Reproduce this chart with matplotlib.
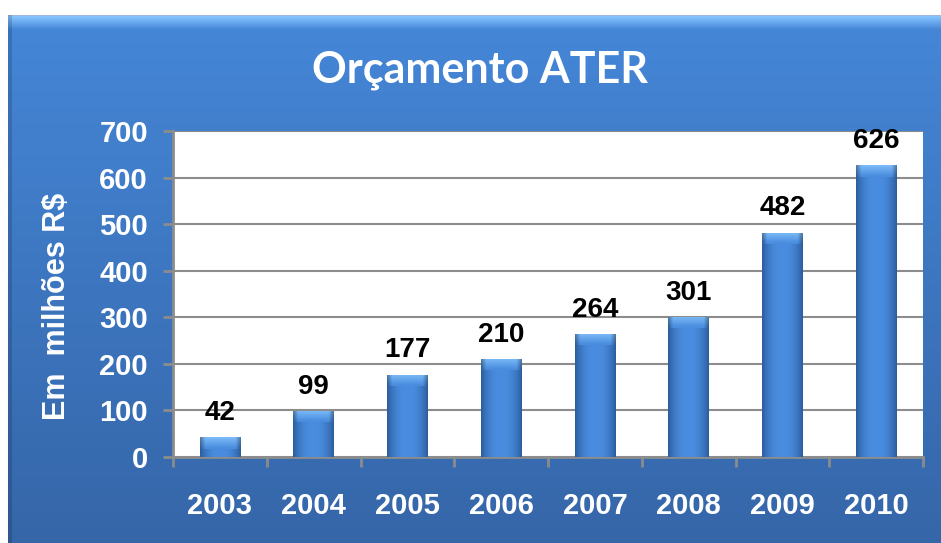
import matplotlib
matplotlib.use("Agg")
import matplotlib.pyplot as plt
import numpy as np
from matplotlib.colors import to_rgb

years = ["2003", "2004", "2005", "2006", "2007", "2008", "2009", "2010"]
values = [42, 99, 177, 210, 264, 301, 482, 626]
y_ticks = [0, 100, 200, 300, 400, 500, 600, 700]

title = "Orçamento ATER"
y_label = "Em  milhões R$"

W, H = 941, 543
fig = plt.figure(figsize=(W / 100, H / 100), dpi=100, facecolor="white")


def mix(c1, c2, t):
    a, b = np.array(to_rgb(c1)), np.array(to_rgb(c2))
    t = np.asarray(t)[..., None]
    return a * (1 - t) + b * t


# blue frame behind the chart
bg = fig.add_axes([0, 0, 1, 1], zorder=0)
bg.set_axis_off()
yy = np.linspace(0, 1, H)
img = np.ones((H, W, 3))
frame_top, frame_left = 15, 8
col = mix("#4586d7", "#3566a8", np.clip((yy - 0.05) / 0.95, 0, 1))
img[frame_top:, frame_left:, :] = col[frame_top:, None, :]
# light bevel at the top
bevel = mix("#86c4ff", "#4586d7", np.linspace(0, 1, 14))
img[frame_top + 1:frame_top + 15, frame_left:, :] = bevel[:, None, :]
img[frame_top, frame_left:, :] = to_rgb("#9fb6df")
# darker left edge
img[frame_top:, frame_left:frame_left + 4, :] *= 0.85
bg.imshow(img, extent=[0, W, H, 0], aspect="auto")
bg.set_xlim(0, W)
bg.set_ylim(H, 0)

ax = fig.add_axes([173 / W, 1 - 457 / H, 750 / W, 326 / H], zorder=1)
ax.set_facecolor("white")
x = np.arange(len(years))
bar_w = 0.43
bars = ax.bar(x, values, width=bar_w, color="#3d7ccc", zorder=2)

# shaded bar bodies with a lighter cap
prof = np.abs(np.linspace(-1, 1, 60))
body = mix("#4a8de0", "#2c5d9e", prof ** 2.4)
cap_h = 24
for rect, v in zip(bars, values):
    x0 = rect.get_x()
    x1 = x0 + rect.get_width()
    im = ax.imshow(body[None, :, :], extent=[x0, x1, 0, v], aspect="auto",
                   zorder=3, interpolation="bilinear")
    im.set_clip_path(rect)
    ch = min(cap_h, v)
    t = np.linspace(0, 1, 20)[:, None]
    cap = mix("#7cbcf8", "#4a8de0", np.clip(t * 1.1 + 0 * prof[None, :], 0, 1))
    edge = np.clip((prof[None, :] - 0.75) / 0.25, 0, 1)
    cap = cap * (1 - 0.35 * edge[..., None])
    imc = ax.imshow(cap, extent=[x0, x1, v - ch, v], aspect="auto",
                    zorder=4, interpolation="bilinear", origin="upper")
    imc.set_clip_path(rect)
    ax.annotate(str(v), (rect.get_x() + rect.get_width() / 2, v),
                xytext=(0, 8), textcoords="offset points", ha="center",
                va="bottom", fontsize=20, fontweight="bold",
                family="Liberation Sans", color="black", zorder=5)

ax.set_xlim(-0.5, len(years) - 0.5)
ax.set_ylim(0, 700)
ax.set_yticks(y_ticks)
ax.set_yticklabels([str(t) for t in y_ticks])
ax.set_xticks(x)
ax.set_xticklabels(years)
ax.set_xticks(np.arange(len(years) + 1) - 0.5, minor=True)
ax.yaxis.grid(True, color="#8c8c8c", linewidth=1.5, zorder=1)
ax.set_axisbelow(True)
for s in ["top", "right"]:
    ax.spines[s].set_visible(False)
for s in ["left", "bottom"]:
    ax.spines[s].set_color("#8c8c8c")
    ax.spines[s].set_linewidth(2)

ax.tick_params(axis="y", direction="out", length=7, width=2, color="#8c8c8c",
               pad=11, labelsize=21, labelcolor="white")
ax.tick_params(axis="x", which="major", length=0, pad=25, labelsize=21,
               labelcolor="white")
ax.tick_params(axis="x", which="minor", direction="out", length=7, width=2,
               color="#8c8c8c")
for lab in ax.get_xticklabels() + ax.get_yticklabels():
    lab.set_fontweight("bold")
    lab.set_family("Liberation Sans")

fig.text(480 / W, 1 - 70 / H, title, ha="center", va="center", fontsize=31,
         fontweight="bold", family="Lato", color="white")
fig.text(57 / W, 1 - 306 / H, y_label, ha="center", va="center", rotation=90,
         fontsize=22, fontweight="bold", family="Liberation Sans", color="white")

fig.savefig("out.png", dpi=100, facecolor="white")
